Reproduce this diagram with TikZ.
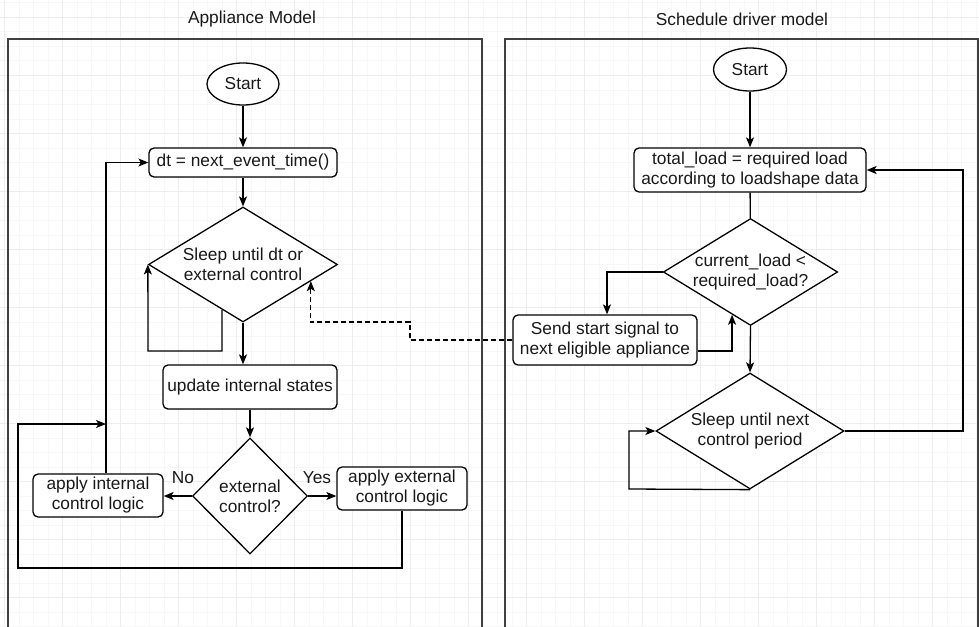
\documentclass[tikz,border=0pt]{standalone}
\usepackage{fontspec}
\setmainfont{Liberation Sans}
\usetikzlibrary{shapes.geometric,arrows.meta,calc}
\tikzset{
  base/.style={draw=black, line width=1.3pt, fill=white, inner sep=0pt, align=center, text=black!90},
  box/.style={base, rectangle, rounded corners=5pt},
  term/.style={base, ellipse},
  dec/.style={base, diamond},
  arr/.style={draw=black, line width=1.3pt, -{Stealth[length=10pt,width=8pt,inset=2.5pt]}},
  conn/.style={draw=black, line width=1.3pt},
  frame/.style={draw=black!75, line width=1.8pt},
  title/.style={text=black!90},
  lbl/.style={text=black!90},
  minorgrid/.style={draw=black!3, line width=0.6pt},
  majorgrid/.style={draw=black!7, line width=0.7pt},
  every node/.style={font=\fontsize{17.3}{20}\selectfont}
}
\begin{document}
\begin{tikzpicture}[x=1pt,y=-1pt]
\useasboundingbox (0,0) rectangle (979,626);
\fill[white] (0,0) rectangle (979,626);
% grid
\foreach \i in {0,...,68} {
  \draw[minorgrid] ({4.7+14.5*\i},0) -- ({4.7+14.5*\i},626);
}
\foreach \i in {-1,...,43} {
  \draw[minorgrid] (0,{17.3+14.5*\i}) -- (979,{17.3+14.5*\i});
}
\foreach \i in {0,...,17} {
  \draw[majorgrid] ({4.7+58*\i},0) -- ({4.7+58*\i},626);
}
\foreach \i in {0,...,10} {
  \draw[majorgrid] (0,{17.3+58*\i}) -- (979,{17.3+58*\i});
}
% frames
\draw[frame] (8,39) rectangle (482,640);
\draw[frame] (505,39) rectangle (978,640);
\node[title] (t1) at (252,19) {Appliance Model};
\node[title] (t2) at (742,19) {Schedule driver model};

% left panel
\node[term, minimum width=72pt, minimum height=42pt] (s1) at (243,84) {Start};
\node[box, minimum width=188pt, minimum height=29pt] (dt) at (243,162.5) {dt = next\_event\_time()};
\node[dec, minimum width=189pt, minimum height=115pt, shape aspect=1.64] (d1) at (243,264.5) {Sleep until dt or\\external control};
\node[box, minimum width=174pt, minimum height=44pt] (upd) at (250,387) {update internal states};
\node[dec, minimum width=115pt, minimum height=116pt, shape aspect=1] (d2) at (250,496) {external\\control?};
\node[box, minimum width=130pt, minimum height=43pt] (int) at (98,495.5) {apply internal\\control logic};
\node[box, minimum width=130pt, minimum height=43pt] (ext) at (402,488.5) {apply external\\control logic};
\node[lbl] (no) at (183,478) {No};
\node[lbl] (yes) at (317,478) {Yes};

% right panel
\node[term, minimum width=73pt, minimum height=43pt] (s2) at (750,69.5) {Start};
\node[box, minimum width=232pt, minimum height=44pt] (tl) at (750,170) {total\_load = required load\\according to loadshape data};
\node[dec, minimum width=163pt, minimum height=100pt, shape aspect=1.63] (d3) at (750.5,272) {current\_load <\\required\_load?};
\node[box, minimum width=184pt, minimum height=50pt] (send) at (605,340) {Send start signal to\\next eligible appliance};
\node[dec, minimum width=188pt, minimum height=116pt, shape aspect=1.62] (d4) at (750,431) {Sleep until next\\control period};

% coordinates
\coordinate (p1) at ($(d1.west)!0.78!(d1.south)$);
\coordinate (lp1) at (148,351);
\coordinate (c1) at (18,568);
\coordinate (c2) at (106,424);
\coordinate (c3) at (963,170);
\coordinate (c4) at (629,489);
\coordinate (c5) at (410,322);
\coordinate (p2) at ($(d1.east)!0.287!(d1.south)$);
\coordinate (p3) at ($(d3.west)!0.79!(d3.south)$);

% left connectors
\draw[arr] (s1) -- (dt);
\draw[arr] (dt) -- (d1);
\draw[arr] (p1) |- (lp1) -- (d1.west);
\draw[arr] (d1.south) -- (d1.south |- upd.north);
\draw[arr] (upd) -- (d2);
\draw[arr] (d2.west) -- (int.east |- d2.west);
\draw[arr] (d2.east) -- (ext.west |- d2.east);
\draw[arr] ([xshift=8pt]int.north) |- (dt.west);
\draw[arr] (ext.south) |- (c1) |- (c2);

% right connectors
\draw[arr] (s2) -- (tl);
\draw[conn] (tl) -- (d3);
\draw[arr] (d3.west) -| ([xshift=2pt]send.north);
\draw[arr] ([yshift=-11pt]send.east) -| (p3);
\draw[arr] (d3.south) -- (d4.north);
\draw[arr] (d4.east) -| (c3) -- (tl.east);
\draw[arr] (d4.south) -- (c4) |- (d4.west);

% dashed link
\draw[arr, dash pattern=on 5pt off 3pt] (send.west) -| (c5) -- (p2 |- c5) -- (p2);
\end{tikzpicture}
\end{document}
